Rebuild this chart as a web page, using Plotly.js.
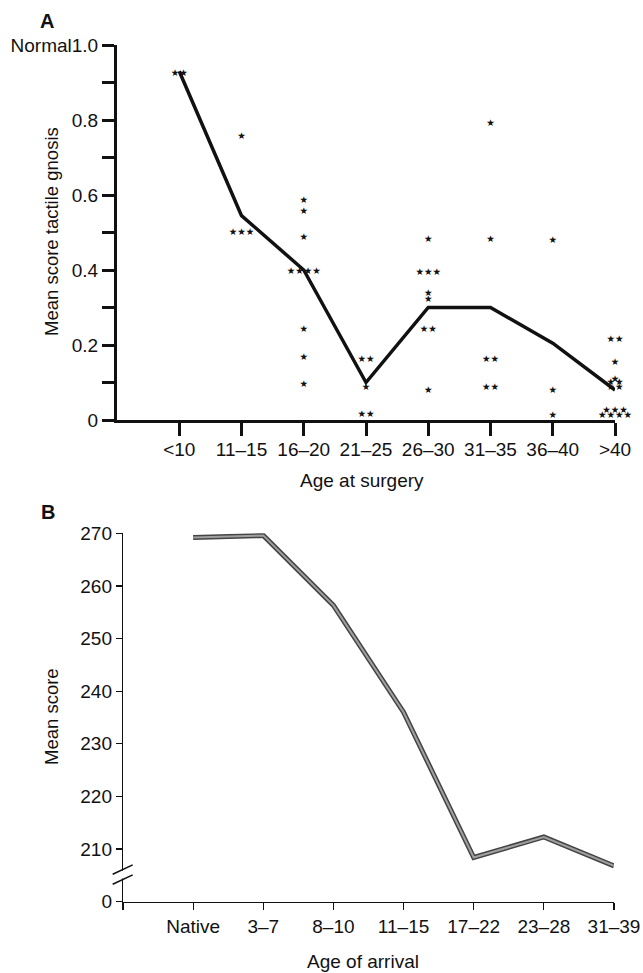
<!DOCTYPE html>
<html>
<head>
<meta charset="utf-8">
<script src="https://cdn.plot.ly/plotly-3.0.1.min.js"></script>
<style>html,body{margin:0;padding:0;background:#fff;}</style>
</head>
<body>
<div id="chart" style="width:643px;height:973px;"></div>
<script>
// ---------- Panel A data ----------
const catsA = ['<10', '11–15', '16–20', '21–25', '26–30', '31–35', '36–40', '>40'];
const meanA = [0.93, 0.545, 0.40, 0.10, 0.30, 0.30, 0.205, 0.08];
const yTickValsA = [0, 0.1, 0.2, 0.3, 0.4, 0.5, 0.6, 0.7, 0.8, 0.9, 1.0];
const yTickTextA = ['0', '', '0.2', '', '0.4', '', '0.6', '', '0.8', '', 'Normal1.0'];
// individual patients: category index, score, number of stars side by side
const starCat   = [0, 1, 1, 2, 2, 2, 2, 2, 2, 2, 3, 3, 3, 4, 4, 4, 4, 4, 4, 5, 5, 5, 5, 6, 6, 6, 7, 7, 7, 7, 7, 7, 7];
const starVal   = [0.925, 0.755, 0.50, 0.585, 0.556, 0.487, 0.395, 0.24, 0.166, 0.095, 0.162, 0.087, 0.015,
                   0.48, 0.394, 0.336, 0.322, 0.24, 0.077, 0.791, 0.48, 0.16, 0.087, 0.477, 0.078, 0.0125,
                   0.215, 0.153, 0.108, 0.10, 0.087, 0.025, 0.012];
const starCount = [2, 1, 3, 1, 1, 1, 4, 1, 1, 1, 2, 1, 2,
                   1, 3, 1, 1, 2, 1, 1, 1, 2, 2, 1, 1, 1,
                   2, 1, 1, 2, 2, 3, 4];

// ---------- Panel B data ----------
const catsB = ['Native', '3–7', '8–10', '11–15', '17–22', '23–28', '31–39'];
const meanB = [269.2, 269.6, 256.3, 236.0, 208.4, 212.3, 206.8];
const yTickValsB = [200, 210, 220, 230, 240, 250, 260, 270];
const yTickTextB = ['0', '210', '220', '230', '240', '250', '260', '270'];

const FONT = 'Liberation Sans, Arial, Helvetica, sans-serif';
const idxA = catsA.map((c, i) => i);
const idxB = catsB.map((c, i) => i);

const traces = [
  {
    x: starCat, y: starVal,
    text: starCount.map(n => '★'.repeat(n)),
    mode: 'text', type: 'scatter',
    textposition: 'middle center',
    textfont: {family: 'DejaVu Sans, sans-serif', size: 9.5, color: '#111'},
    cliponaxis: false, hoverinfo: 'skip',
    xaxis: 'x', yaxis: 'y'
  },
  {
    x: idxA, y: meanA, mode: 'lines', type: 'scatter',
    line: {color: '#111', width: 3.5},
    cliponaxis: false,
    xaxis: 'x', yaxis: 'y'
  },
  {
    x: idxB, y: meanB, mode: 'lines', type: 'scatter',
    line: {color: '#444', width: 5},
    cliponaxis: false,
    xaxis: 'x2', yaxis: 'y2'
  },
  {
    x: idxB, y: meanB, mode: 'lines', type: 'scatter',
    line: {color: '#a0a0a0', width: 2},
    cliponaxis: false,
    xaxis: 'x2', yaxis: 'y2'
  }
];

function ann(text, px, py, size, angle) {
  return {text: text, xref: 'paper', yref: 'paper', x: px / 643, y: 1 - py / 973,
          xanchor: 'center', yanchor: 'middle', textangle: angle || 0,
          showarrow: false, font: {family: FONT, size: size, color: '#111'}};
}

const layout = {
  width: 643, height: 973,
  margin: {l: 0, r: 0, t: 0, b: 0},
  paper_bgcolor: '#fff', plot_bgcolor: 'rgba(0,0,0,0)',
  showlegend: false,
  font: {family: FONT, size: 19, color: '#111'},
  xaxis: {
    domain: [117 / 643, 615 / 643], range: [-1, 7],
    tickmode: 'array', tickvals: idxA, ticktext: catsA,
    ticks: 'outside', ticklen: 13, tickwidth: 3, tickcolor: '#111',
    ticklabelstandoff: -3,
    showline: true, linewidth: 3, linecolor: '#111',
    showgrid: false, zeroline: false, anchor: 'y', automargin: false,
    tickfont: {family: FONT, size: 19, color: '#111'}
  },
  yaxis: {
    domain: [1 - 420 / 973, 1 - 45 / 973], range: [0, 1.0],
    tickmode: 'array', tickvals: yTickValsA, ticktext: yTickTextA,
    ticks: 'outside', ticklen: 12, tickwidth: 3, tickcolor: '#111',
    showline: true, linewidth: 3, linecolor: '#111',
    showgrid: false, zeroline: false, anchor: 'x', automargin: false,
    tickfont: {family: FONT, size: 19, color: '#111'}
  },
  xaxis2: {
    domain: [123 / 643, 614 / 643], range: [-1, 6],
    tickmode: 'array', tickvals: [-1].concat(idxB), ticktext: [''].concat(catsB),
    ticks: 'outside', ticklen: 7, tickwidth: 1.2, tickcolor: '#111',
    showline: true, linewidth: 1.2, linecolor: '#111',
    showgrid: false, zeroline: false, anchor: 'y2', automargin: false,
    tickfont: {family: FONT, size: 19, color: '#111'}
  },
  yaxis2: {
    domain: [1 - 901.7 / 973, 1 - 533.3 / 973], range: [200, 270],
    tickmode: 'array', tickvals: yTickValsB, ticktext: yTickTextB,
    ticks: 'outside', ticklen: 6, tickwidth: 1.2, tickcolor: '#111',
    showline: true, linewidth: 1.2, linecolor: '#111',
    showgrid: false, zeroline: false, anchor: 'x2', automargin: false,
    tickfont: {family: FONT, size: 19, color: '#111'}
  },
  shapes: [
    // axis break on panel B y axis
    {type: 'rect', xref: 'paper', yref: 'y2', x0: 118 / 643, x1: 128 / 643, y0: 204.4, y1: 205.9,
     fillcolor: '#fff', line: {width: 0}, layer: 'above'},
    {type: 'line', xref: 'paper', yref: 'y2', x0: 112.7 / 643, x1: 132.7 / 643, y0: 205.2, y1: 207.0,
     line: {color: '#111', width: 1.6}, layer: 'above'},
    {type: 'line', xref: 'paper', yref: 'y2', x0: 112.7 / 643, x1: 132.7 / 643, y0: 203.3, y1: 205.1,
     line: {color: '#111', width: 1.6}, layer: 'above'}
  ],
  annotations: [
    ann('<b>A</b>', 47, 21, 20),
    ann('<b>B</b>', 47.5, 511.5, 20),
    ann('Mean score tactile gnosis', 51, 232, 18.5, -90),
    ann('Age at surgery', 362, 480, 19),
    ann('Mean score', 51, 717, 18.5, -90),
    ann('Age of arrival', 363, 961, 19)
  ]
};

Plotly.newPlot('chart', traces, layout, {displayModeBar: false, staticPlot: true});
</script>
</body>
</html>
